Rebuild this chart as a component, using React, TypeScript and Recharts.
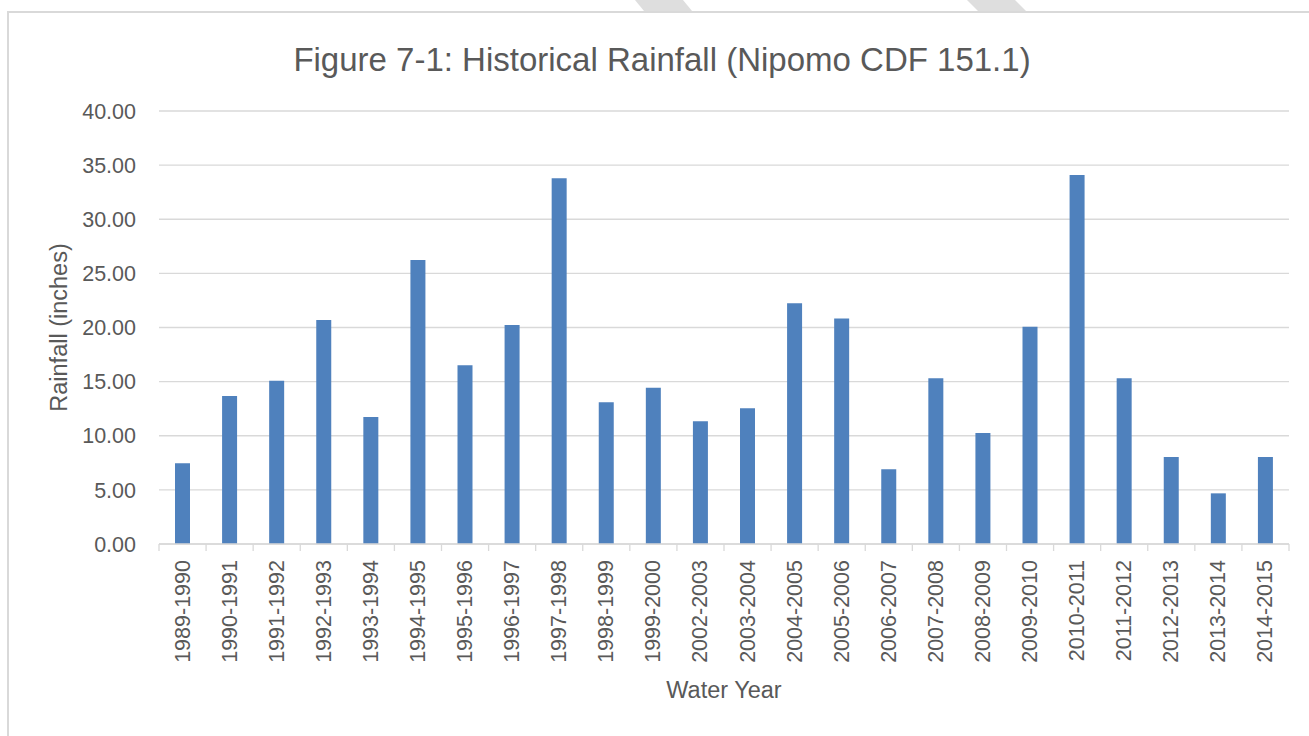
import { BarChart, Bar, XAxis, YAxis, CartesianGrid, Label } from "recharts";

// Water years (as listed in the figure, 2000-2002 are missing)
const waterYears = [
  "1989-1990",
  "1990-1991",
  "1991-1992",
  "1992-1993",
  "1993-1994",
  "1994-1995",
  "1995-1996",
  "1996-1997",
  "1997-1998",
  "1998-1999",
  "1999-2000",
  "2002-2003",
  "2003-2004",
  "2004-2005",
  "2005-2006",
  "2006-2007",
  "2007-2008",
  "2008-2009",
  "2009-2010",
  "2010-2011",
  "2011-2012",
  "2012-2013",
  "2013-2014",
  "2014-2015",
];

// Rainfall in inches
const rainfall = [
  7.46, 13.67, 15.09, 20.69, 11.73, 26.24, 16.51, 20.23, 33.78, 13.09, 14.44, 11.33, 12.53, 22.23, 20.82,
  6.9, 15.31, 10.25, 20.08, 34.09, 15.31, 8.04, 4.68, 8.04,
];

const yTicks = [0, 5, 10, 15, 20, 25, 30, 35, 40];

const FONT = "'Liberation Sans', Arial, sans-serif";
const TEXT = "#595959";
const GRID = "#d9d9d9";
const BLUE = "#4f81bd";

const TICK_SIZE = 6;
const TICK_MARGIN = 10;

const data = waterYears.map((name, i) => ({ name, value: rainfall[i] }));

// label plus Excel-style tick marks on the category boundaries
const YearTick = (props: any) => {
  const { x, y, payload, index } = props;
  const half = payload.offset ?? 0;
  const axisY = y - TICK_SIZE - TICK_MARGIN;
  const last = index === waterYears.length - 1;
  return (
    <g>
      <line x1={x - half} x2={x - half} y1={axisY} y2={axisY + 7} stroke={GRID} strokeWidth={1.3} />
      {last && <line x1={x + half} x2={x + half} y1={axisY} y2={axisY + 7} stroke={GRID} strokeWidth={1.3} />}
      <text
        x={x}
        y={y}
        transform={`rotate(-90, ${x}, ${y})`}
        textAnchor="end"
        dominantBaseline="central"
        fill={TEXT}
        fontSize={21.5}
        fontFamily={FONT}
      >
        {payload.value}
      </text>
    </g>
  );
};

const YTitle = (props: any) => {
  const { viewBox } = props;
  const cx = viewBox.x + 59;
  const cy = viewBox.y + viewBox.height / 2;
  return (
    <text
      x={cx}
      y={cy}
      transform={`rotate(-90, ${cx}, ${cy})`}
      textAnchor="middle"
      dominantBaseline="central"
      fill={TEXT}
      fontSize={23.5}
      fontFamily={FONT}
    >
      Rainfall (inches)
    </text>
  );
};

export default function App() {
  return (
    <div style={{ position: "fixed", left: 0, top: 0, width: 1309, height: 736, overflow: "hidden", background: "#fff" }}>
      {/* grey page decoration above the chart frame */}
      <svg style={{ position: "absolute", left: 0, top: 0 }} width={1309} height={12}>
        <polygon points="635,0 683,0 692,11 644,11" fill="#dedede" />
        <polygon points="967,0 1015,0 1026,11 978,11" fill="#dedede" />
      </svg>

      {/* chart frame */}
      <div
        style={{
          position: "absolute",
          left: 7,
          top: 11,
          width: 1320,
          height: 800,
          border: `2px solid ${GRID}`,
          boxSizing: "border-box",
        }}
      />

      <div
        style={{
          position: "absolute",
          left: 8,
          top: 43,
          width: 1308,
          textAlign: "center",
          fontFamily: FONT,
          fontSize: 33,
          lineHeight: 1,
          color: TEXT,
        }}
      >
        Figure 7-1: Historical Rainfall (Nipomo CDF 151.1)
      </div>

      <div style={{ position: "absolute", left: 0, top: 0 }}>
        <BarChart width={1309} height={736} data={data} margin={{ top: 111, right: 20, left: 0, bottom: 32 }}>
          <CartesianGrid vertical={false} stroke={GRID} strokeWidth={1.3} />
          <XAxis
            dataKey="name"
            height={160}
            interval={0}
            axisLine={{ stroke: GRID, strokeWidth: 1.5 }}
            tickLine={false}
            tickSize={TICK_SIZE}
            tickMargin={TICK_MARGIN}
            tick={<YearTick />}
          >
            <Label
              value="Water Year"
              position="insideBottom"
              offset={6}
              fill={TEXT}
              fontSize={23.5}
              fontFamily={FONT}
            />
          </XAxis>
          <YAxis
            width={159}
            domain={[0, 40]}
            ticks={yTicks}
            interval={0}
            axisLine={false}
            tickLine={false}
            tickMargin={17}
            tickFormatter={(v: number) => v.toFixed(2)}
            tick={{ fill: TEXT, fontSize: 21.5, fontFamily: FONT }}
          >
            <Label content={<YTitle />} />
          </YAxis>
          <Bar dataKey="value" fill={BLUE} barSize={15} isAnimationActive={false} />
        </BarChart>
      </div>
    </div>
  );
}
